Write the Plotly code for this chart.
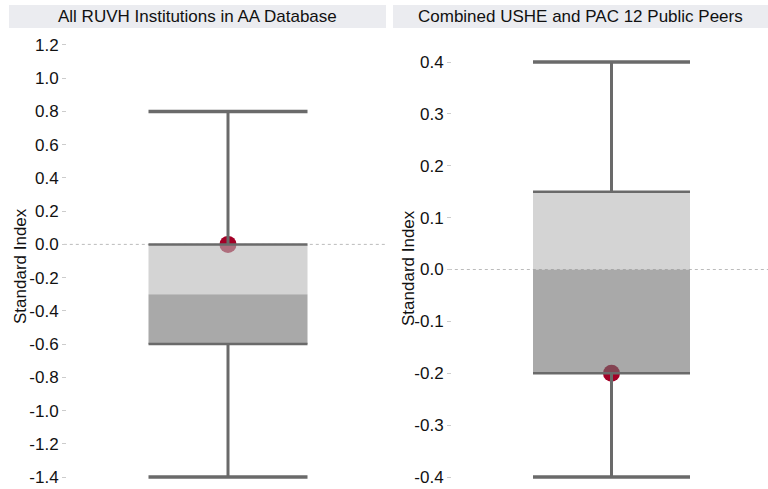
import plotly.graph_objects as go

W, H = 768, 489

# ---- data ----
panel_titles = ["All RUVH Institutions in AA Database", "Combined USHE and PAC 12 Public Peers"]
upper_whisker = [0.8, 0.4]
q3_values = [0.0, 0.15]
median_values = [-0.3, 0.0]
q1_values = [-0.6, -0.2]
lower_whisker = [-1.4, -0.4]
institution_value = [0.0, -0.2]
tick_values = [
    [-1.4, -1.2, -1.0, -0.8, -0.6, -0.4, -0.2, 0.0, 0.2, 0.4, 0.6, 0.8, 1.0, 1.2],
    [-0.4, -0.3, -0.2, -0.1, 0.0, 0.1, 0.2, 0.3, 0.4],
]
tick_labels = [[f"{v:.1f}" for v in tv] for tv in tick_values]
y_ranges = [[-1.43, 1.23], [-0.4096, 0.4424]]
y_title = "Standard Index"

# ---- layout geometry (px) ----
plot_px = [(67, 386), (452, 768)]
x_ranges = [[-1.0126, 0.9937], [-1.0159, 0.9968]]
bar_px = [(9, 386), (393, 768)]
ytitle_px = [(20, 266), (408, 268)]
plot_top, plot_bottom = 40, 482

LIGHT = "rgba(183,183,183,0.6)"
DARK = "rgba(112,112,112,0.6)"
LINE = "#6a6a6a"
RED = "#a30026"
FONT = "Liberation Sans, Arial"

fig = go.Figure()
shapes = []
annotations = []

for i in range(2):
    xa = "x" if i == 0 else "x2"
    ya = "y" if i == 0 else "y2"
    # institution marker (drawn first, so the translucent box sits over it)
    fig.add_trace(go.Scatter(x=[0], y=[institution_value[i]], mode="markers",
                             marker=dict(color=RED, size=17, line=dict(width=0)),
                             xaxis=xa, yaxis=ya, showlegend=False, hoverinfo="y"))
    # box parts as filled polygons: q1 -> median (dark), median -> q3 (light)
    for lo, hi, col in ((q1_values[i], median_values[i], DARK),
                        (median_values[i], q3_values[i], LIGHT)):
        fig.add_trace(go.Scatter(x=[-0.5, 0.5, 0.5, -0.5, -0.5], y=[lo, lo, hi, hi, lo],
                                 mode="lines", fill="toself", fillcolor=col,
                                 line=dict(width=0), xaxis=xa, yaxis=ya,
                                 showlegend=False, hoverinfo="skip"))
    # whiskers
    for a, b in ((q3_values[i], upper_whisker[i]), (q1_values[i], lower_whisker[i])):
        fig.add_trace(go.Scatter(x=[0, 0], y=[a, b], mode="lines",
                                 line=dict(color=LINE, width=3), xaxis=xa, yaxis=ya,
                                 showlegend=False, hoverinfo="skip"))
        fig.add_trace(go.Scatter(x=[-0.5, 0.5], y=[b, b], mode="lines",
                                 line=dict(color=LINE, width=3.5), xaxis=xa, yaxis=ya,
                                 showlegend=False, hoverinfo="skip"))
    # box edges
    for v in (q3_values[i], q1_values[i]):
        fig.add_trace(go.Scatter(x=[-0.5, 0.5], y=[v, v], mode="lines",
                                 line=dict(color=LINE, width=2.5), xaxis=xa, yaxis=ya,
                                 showlegend=False, hoverinfo="skip"))
    # zero reference line
    shapes.append(dict(type="line", xref=f"{xa} domain", yref=ya, x0=-0.01, x1=1, y0=0, y1=0,
                       line=dict(color="#bbbbbb", width=1, dash="dot"), layer="below"))
    # title bar
    x0, x1 = bar_px[i]
    shapes.append(dict(type="rect", xref="paper", yref="paper", x0=x0 / W, x1=x1 / W,
                       y0=1 - 28 / H, y1=1 - 5 / H, fillcolor="#ebecf0",
                       line=dict(width=0), layer="below"))
    annotations.append(dict(text=panel_titles[i], xref="paper", yref="paper",
                            x=(x0 + x1) / 2 / W, y=1 - 16.5 / H, xanchor="center",
                            yanchor="middle", showarrow=False,
                            font=dict(family=FONT, size=17, color="#111111")))
    # y-axis title
    tx, ty = ytitle_px[i]
    annotations.append(dict(text=y_title, xref="paper", yref="paper", x=tx / W, y=1 - ty / H,
                            xanchor="center", yanchor="middle", textangle=-90, showarrow=False,
                            font=dict(family=FONT, size=17, color="#111111")))

axis_common = dict(showgrid=False, zeroline=False, showline=False, automargin=False)
for i in range(2):
    xkey = "xaxis" if i == 0 else "xaxis2"
    ykey = "yaxis" if i == 0 else "yaxis2"
    p0, p1 = plot_px[i]
    fig.layout[xkey] = dict(domain=[p0 / W, p1 / W], range=x_ranges[i], visible=False,
                            anchor="y" if i == 0 else "y2", **axis_common)
    fig.layout[ykey] = dict(domain=[1 - plot_bottom / H, 1 - plot_top / H], range=y_ranges[i],
                            anchor="x" if i == 0 else "x2",
                            tickmode="array", tickvals=tick_values[i], ticktext=tick_labels[i],
                            ticks="outside", ticklen=4, tickcolor="#cccccc", tickwidth=1,
                            tickfont=dict(family=FONT, size=17, color="#111111"),
                            **axis_common)

fig.update_layout(width=W, height=H, margin=dict(l=0, r=0, t=0, b=0, autoexpand=False),
                  paper_bgcolor="white", plot_bgcolor="white",
                  shapes=shapes, annotations=annotations, showlegend=False)

fig.write_html("out.html", config={"displayModeBar": False},
               post_script="document.body.style.margin='0px';document.body.style.overflow='hidden';")
